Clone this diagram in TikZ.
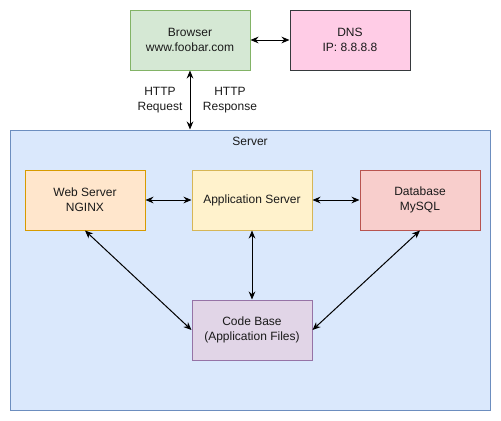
\documentclass[tikz,border=0pt]{standalone}
\usepackage{fontspec}
\setmainfont{Liberation Sans}
\usetikzlibrary{arrows.meta}

\begin{document}
\begin{tikzpicture}[x=0.75pt, y=-0.75pt, font=\fontsize{9}{11}\selectfont, >={Stealth[length=6pt,width=5pt]}]
  \definecolor{greenfill}{HTML}{D5E8D4}  \definecolor{greenline}{HTML}{82B366}
  \definecolor{pinkfill}{HTML}{FFCCE6}   \definecolor{pinkline}{HTML}{36393D}
  \definecolor{bluefill}{HTML}{DAE8FC}   \definecolor{blueline}{HTML}{6C8EBF}
  \definecolor{orangefill}{HTML}{FFE6CC} \definecolor{orangeline}{HTML}{D79B00}
  \definecolor{yellowfill}{HTML}{FFF2CC} \definecolor{yellowline}{HTML}{D6B656}
  \definecolor{redfill}{HTML}{F8CECC}    \definecolor{redline}{HTML}{B85450}
  \definecolor{purplefill}{HTML}{E1D5E7} \definecolor{purpleline}{HTML}{9673A6}
  \definecolor{textcol}{HTML}{1A1A1A}
  \tikzstyle{box}=[draw, line width=0.75pt, minimum width=90pt, minimum height=45pt, align=center, text=textcol]
  \tikzstyle{link}=[<->, line width=0.75pt]

  \useasboundingbox (0,0) rectangle (501,421);

  \node[draw=blueline, fill=bluefill, line width=0.75pt, minimum width=360pt, minimum height=210pt](server) at (250,270) {};
  \node[text=textcol] (serverlabel) at (250,141) {Server};

  \node[box, draw=greenline, fill=greenfill](browser) at (190,40) {Browser\\www.foobar.com};
  \node[box, draw=pinkline, fill=pinkfill](dns) at (350,40) {DNS\\IP: 8.8.8.8};

  \node[box, draw=orangeline, fill=orangefill](web) at (85,200) {Web Server\\NGINX};
  \node[box, draw=yellowline, fill=yellowfill](app) at (252,200) {Application Server};
  \node[box, draw=redline, fill=redfill](db) at (420,200) {Database\\MySQL};
  \node[box, draw=purpleline, fill=purplefill](code) at (252,330) {Code Base\\(Application Files)};

  \node[align=center, text=textcol] (request) at (160,100) {HTTP\\Request};
  \node[align=center, text=textcol] (response) at (230,100) {HTTP\\Response};

  \draw[link] (browser) -- (dns);
  \draw[link] (browser.south) -- (server.north -| browser.south);
  \draw[link] (web) -- (app);
  \draw[link] (app) -- (db);
  \draw[link] (app) -- (code);
  \draw[link] (web.south) -- (code.west);
  \draw[link] (db.south) -- (code.east);

\end{tikzpicture}
\end{document}
